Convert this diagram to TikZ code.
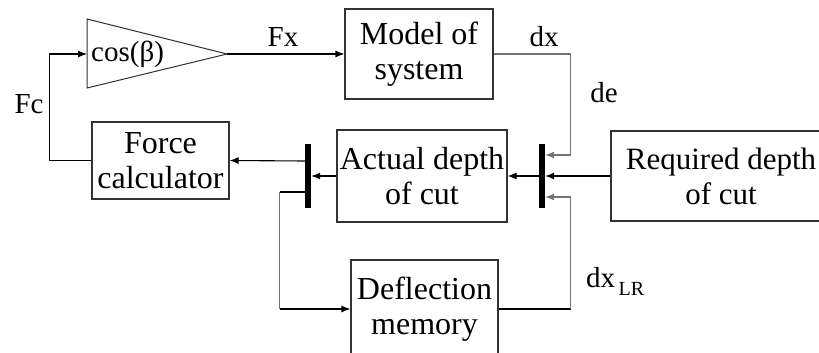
\documentclass[tikz,border=0pt]{standalone}
\usepackage{fontspec}
\setmainfont{Liberation Serif}
\usetikzlibrary{arrows.meta}
\begin{document}
\begin{tikzpicture}[x=1pt,y=-1pt,
  box/.style={draw=black!80,line width=1.1pt,inner sep=0pt,align=center,font=\fontsize{32}{35}\selectfont},
  bar/.style={fill=black,minimum width=6pt,minimum height=64pt,inner sep=0pt},
  wire/.style={line width=1.1pt,draw=black},
  gwire/.style={line width=1.1pt,draw=black!55},
  arr/.style={wire,-{Latex[length=9pt,width=7pt]}},
  garr/.style={gwire,-{Latex[length=9pt,width=7pt]}},
  lbl/.style={font=\fontsize{29}{33}\selectfont,inner sep=0pt}]
\useasboundingbox (0,0) rectangle (819,353);
\fill[white] (0,0) rectangle (819,353);
\clip (0,0) rectangle (819,353);
% amplifier triangle
\draw[black!80,line width=1pt] (87,19) -- (227,54) -- (87,88) -- cycle;
\coordinate (triin) at (87,54);
\coordinate (triout) at (227,54);
\node[lbl,anchor=base west] (cosb) at (91,62) {cos(β)};
% boxes
\node[box,minimum width=148pt,minimum height=90pt] (model) at (419,54) {Model of\\system};
\node[box,minimum width=137pt,minimum height=77pt] (force) at (160.5,160.5) {Force\\calculator};
\node[box,minimum width=170pt,minimum height=92pt] (actual) at (422,176) {Actual depth\\of cut};
\node[box,minimum width=220pt,minimum height=90pt,font=\fontsize{31}{35}\selectfont] (req) at (721,176) {Required depth\\of cut};
\node[box,minimum width=147pt,minimum height=98pt] (defl) at (424.5,309) {Deflection\\memory};
% summing bars
\node[bar] (bar1) at (308,176) {};
\node[bar] (bar2) at (542,176) {};
% connectors
\draw[arr] (force.west) -- ++(-42,0) |- (triin);
\draw[arr] (triout) -- (model.west);
\draw[garr] (model.east) -- ++(77,0) |- ([yshift=21pt]bar2.east);
\draw[arr] (req.west) -- (bar2.east);
\draw[wire] (defl.east) -- ++(72,0) coordinate (dlr);
\draw[garr] (dlr) |- ([yshift=-21pt]bar2.east);
\draw[arr] (bar2.west) -- (actual.east);
\draw[arr] (actual.west) -- (bar1.east);
\draw[arr] ([yshift=15pt]bar1.west) -- (force.east);
\draw[wire] ([yshift=-16pt]bar1.west) -- ++(-25,0) coordinate (dbr);
\coordinate (dbr2) at (dbr |- defl.west);
\draw[gwire] (dbr) -- (dbr2);
\draw[arr] (dbr2) -- (defl.west);
% labels
\node[lbl,anchor=base] (fc) at (29,113) {Fc};
\node[lbl,anchor=base] (fx) at (283,47) {Fx};
\node[lbl,anchor=base] (dx) at (544,47) {dx};
\node[lbl,anchor=base] (de) at (604,102) {de};
\node[lbl,anchor=base west] (dxlr) at (586,287) {dx\raisebox{-8pt}{\fontsize{20}{22}\selectfont\,LR}};
\end{tikzpicture}
\end{document}
